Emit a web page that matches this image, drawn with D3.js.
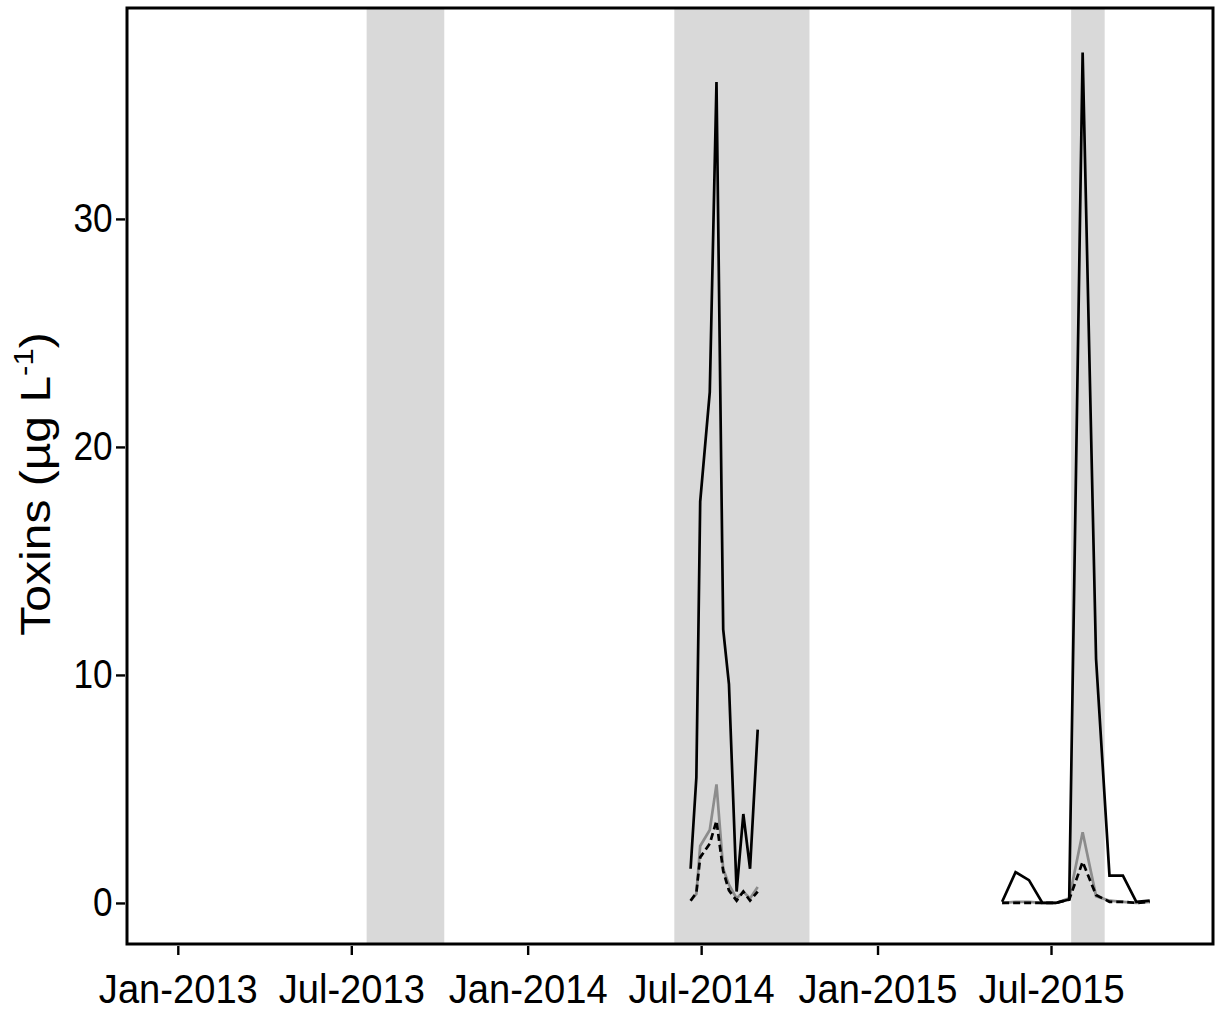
<!DOCTYPE html>
<html>
<head>
<meta charset="utf-8">
<script src="https://cdn.jsdelivr.net/npm/d3@7"></script>
<style>
  body { margin: 0; background: #fff; }
  svg text { font-family: "Liberation Sans", Arial, Helvetica, sans-serif; fill: #000; }
</style>
</head>
<body>
<div id="chart"></div>
<script>
// ------------------------------------------------------------------------ //
// DATA
// ------------------------------------------------------------------------ //

// sampling dates, 2014 season (roughly weekly)
var dates2014 = ["2014-06-20", "2014-06-26", "2014-06-30", "2014-07-10", "2014-07-17", "2014-07-24",
                 "2014-07-30", "2014-08-07", "2014-08-14", "2014-08-21", "2014-08-29"]
var total2014  = [1.5, 5.5, 17.6, 22.4, 36.0, 12.0, 9.6, 0.5, 3.9, 1.5, 7.6]
var grey2014   = [0.1, 0.4, 2.5, 3.2, 5.2, 1.5, 0.8, 0.2, 0.5, 0.2, 0.7]
var dashed2014 = [0.1, 0.45, 2.0, 2.6, 3.6, 1.4, 0.55, 0.1, 0.5, 0.1, 0.5]

// sampling dates, 2015 season (roughly every two weeks)
var dates2015 = ["2015-05-11", "2015-05-25", "2015-06-08", "2015-06-22", "2015-07-06", "2015-07-20",
                 "2015-08-03", "2015-08-17", "2015-08-31", "2015-09-14", "2015-09-28", "2015-10-12"]
var total2015  = [0.05, 1.35, 1.0, 0.0, 0.0, 0.15, 37.3, 10.7, 1.2, 1.2, 0.05, 0.1]
var grey2015   = [0.0, 0.05, 0.05, 0.0, 0.0, 0.2, 3.1, 0.3, 0.1, 0.05, 0.0, 0.05]
var dashed2015 = [0.0, 0.0, 0.0, 0.0, 0.0, 0.15, 1.8, 0.35, 0.05, 0.05, 0.0, 0.05]

// shaded periods
var bandStart = ["2013-07-17", "2014-06-03", "2015-07-22"]
var bandEnd   = ["2013-10-06", "2014-10-22", "2015-08-26"]

// axis ticks
var xTicks = ["2013-01-01", "2013-07-01", "2014-01-01", "2014-07-01", "2015-01-01", "2015-07-01"]
var yTicks = [0, 10, 20, 30]

// ------------------------------------------------------------------------ //
// SVG AREA
// ------------------------------------------------------------------------ //

var W = 1217, H = 1010
var margin = {top: 8, right: 4, bottom: 66, left: 127},
  width = W - margin.left - margin.right,
  height = H - margin.top - margin.bottom

var svg = d3.select("#chart")
  .append("svg")
    .attr("width", W)
    .attr("height", H)
  .append("g")
    .attr("transform", "translate(" + margin.left + "," + margin.top + ")")

var parse = d3.utcParse("%Y-%m-%d")

var x = d3.scaleUtc()
  .domain([parse("2012-11-09"), parse("2015-12-17")])
  .range([0, width])

var y = d3.scaleLinear()
  .domain([-1.8, 39.25])
  .range([height, 0])

// ------------------------------------------------------------------------ //
// SHADED PERIODS
// ------------------------------------------------------------------------ //

var bands = bandStart.map(function(d, i) { return {s: parse(d), e: parse(bandEnd[i])} })
svg.selectAll(".band")
  .data(bands)
  .enter()
  .append("rect")
    .attr("class", "band")
    .attr("x", function(d) { return x(d.s) })
    .attr("width", function(d) { return x(d.e) - x(d.s) })
    .attr("y", 0)
    .attr("height", height)
    .style("fill", "#d9d9d9")

// ------------------------------------------------------------------------ //
// LINES
// ------------------------------------------------------------------------ //

function pts(ds, vs) { return ds.map(function(d, i) { return {date: parse(d), v: vs[i]} }) }

var line = d3.line()
  .x(function(d) { return x(d.date) })
  .y(function(d) { return y(d.v) })

var series = [
  {data: pts(dates2014, grey2014), color: "#8c8c8c", dash: null},
  {data: pts(dates2015, grey2015), color: "#8c8c8c", dash: null},
  {data: pts(dates2014, dashed2014), color: "#000", dash: "7,4"},
  {data: pts(dates2015, dashed2015), color: "#000", dash: "7,4"},
  {data: pts(dates2014, total2014), color: "#000", dash: null},
  {data: pts(dates2015, total2015), color: "#000", dash: null}
]

svg.selectAll(".series")
  .data(series)
  .enter()
  .append("path")
    .attr("class", "series")
    .attr("d", function(d) { return line(d.data) })
    .style("fill", "none")
    .style("stroke", function(d) { return d.color })
    .style("stroke-width", 2.7)
    .style("stroke-linejoin", "miter")
    .style("stroke-dasharray", function(d) { return d.dash })

// ------------------------------------------------------------------------ //
// AXES AND BOX
// ------------------------------------------------------------------------ //

var fmt = d3.utcFormat("%b-%Y")

// the original figure's text is a bit narrow, so squeeze labels horizontally
var xAxis = svg.append("g")
  .attr("transform", "translate(0," + (height + 2) + ")")
  .call(d3.axisBottom(x).tickValues(xTicks.map(parse)).tickFormat(fmt).tickSize(9).tickPadding(19))
xAxis.select(".domain").remove()
xAxis.selectAll("line").style("stroke-width", 2.4)
xAxis.selectAll("text")
  .style("font-size", "41px")
  .attr("transform", "scale(0.93,1)")

var yAxis = svg.append("g")
  .attr("transform", "translate(-2,0)")
  .call(d3.axisLeft(y).tickValues(yTicks).tickSize(9).tickPadding(5))
yAxis.select(".domain").remove()
yAxis.selectAll("line").style("stroke-width", 2.4)
yAxis.selectAll("text")
  .style("font-size", "40px")
  .attr("transform", "scale(0.88,1)")

svg.append("rect")
  .attr("x", 0)
  .attr("y", 0)
  .attr("width", width)
  .attr("height", height)
  .style("fill", "none")
  .style("stroke", "#000")
  .style("stroke-width", 3)

// y axis title
var title = svg.append("text")
  .attr("transform", "translate(" + (-77) + "," + (height / 2 + 8) + ")scale(0.9,1)rotate(-90)")
  .style("text-anchor", "middle")
  .style("font-size", "48px")
title.append("tspan").text("Toxins (µg L")
title.append("tspan").text("-1").attr("dy", -19).style("font-size", "31px")
title.append("tspan").text(")").attr("dy", 19)
</script>
</body>
</html>
